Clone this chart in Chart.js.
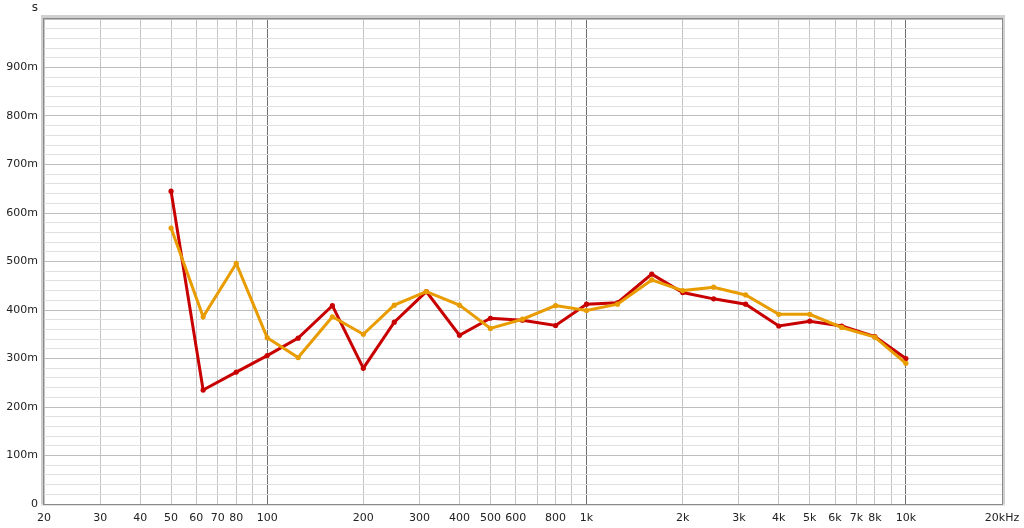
<!DOCTYPE html>
<html>
<head>
<meta charset="utf-8">
<script src="https://cdn.jsdelivr.net/npm/chart.js@4"></script>
<style>
    html, body { margin: 0; padding: 0; background: #ffffff; }
    #wrap { width: 1024px; height: 528px; }
</style>
</head>
<body>
<div id="wrap"><canvas id="rtChart" width="1024" height="528"></canvas></div>
<script>
// 1/3 octave centre frequencies (Hz)
const freqs = [50, 63, 80, 100, 125, 160, 200, 250, 315, 400, 500, 630, 800,
    1000, 1250, 1600, 2000, 2500, 3150, 4000, 5000, 6300, 8000, 10000];

// decay times (s)
const redValues = [0.645, 0.235, 0.272, 0.306, 0.342, 0.409, 0.280, 0.375, 0.438, 0.348, 0.383, 0.379, 0.368,
    0.412, 0.415, 0.474, 0.436, 0.423, 0.412, 0.367, 0.377, 0.367, 0.345, 0.300];
const orangeValues = [0.569, 0.386, 0.496, 0.343, 0.302, 0.386, 0.350, 0.410, 0.438, 0.410, 0.362, 0.381, 0.409,
    0.399, 0.412, 0.462, 0.440, 0.447, 0.431, 0.391, 0.391, 0.364, 0.344, 0.290];

// x grid lines and their labels
const xGridValues = [20, 30, 40, 50, 60, 70, 80, 90, 100, 200, 300, 400, 500, 600, 700, 800, 900,
    1000, 2000, 3000, 4000, 5000, 6000, 7000, 8000, 9000, 10000, 20000];
const xTickLabels = ['20', '30', '40', '50', '60', '70', '80', '', '100', '200', '300', '400', '500', '600', '', '800', '',
    '1k', '2k', '3k', '4k', '5k', '6k', '7k', '8k', '', '10k', '20kHz'];
const yTickLabels = ['0', '100m', '200m', '300m', '400m', '500m', '600m', '700m', '800m', '900m'];

const FONT = { family: "'DejaVu Sans', sans-serif", size: 11 };

function toPoints(values) {
    return freqs.map((f, i) => ({ x: f, y: values[i] }));
}

const frame = {
    id: 'frame',
    beforeDraw(chart) {
        const { ctx, chartArea: a } = chart;
        ctx.save();
        ctx.fillStyle = '#ffffff';
        ctx.fillRect(a.left, a.top, a.right - a.left, a.bottom - a.top);
        ctx.restore();
    },
    afterDatasetsDraw(chart) {
        const { ctx, chartArea: a } = chart;
        ctx.save();
        // raised frame: soft band on left, top and right
        ctx.fillStyle = '#d0d0d0';
        ctx.fillRect(a.left - 3, a.top - 4, 3, a.bottom - a.top + 4);
        ctx.fillRect(a.left - 3, a.top - 4, a.right - a.left + 6, 3);
        ctx.fillRect(a.right, a.top - 4, 3, a.bottom - a.top + 4);
        ctx.fillStyle = '#e4e4e4';
        ctx.fillRect(a.left - 3, a.bottom, a.right - a.left + 6, 2);
        ctx.strokeStyle = '#8a8a8a';
        ctx.lineWidth = 1;
        ctx.strokeRect(a.left - 0.5, a.top - 0.5, a.right - a.left + 1, a.bottom - a.top + 1);
        // unit label
        ctx.fillStyle = '#222222';
        ctx.font = "12px 'DejaVu Sans', sans-serif";
        ctx.textAlign = 'center';
        ctx.textBaseline = 'middle';
        ctx.fillText('s', 35, 8);
        ctx.restore();
    }
};

const ctx = document.getElementById('rtChart').getContext('2d');
const rtChart = new Chart(ctx, {
    type: 'scatter',
    data: {
        datasets: [
            {
                label: 'Orange',
                data: toPoints(orangeValues),
                showLine: true,
                borderColor: '#e89c00',
                backgroundColor: '#e89c00',
                borderWidth: 3,
                pointRadius: 2.6,
                pointBorderWidth: 0,
                pointHoverRadius: 2.6
            },
            {
                label: 'Red',
                data: toPoints(redValues),
                showLine: true,
                borderColor: '#c80000',
                backgroundColor: '#c80000',
                borderWidth: 3,
                pointRadius: 2.6,
                pointBorderWidth: 0,
                pointHoverRadius: 2.6
            }
        ]
    },
    options: {
        responsive: false,
        animation: false,
        layout: { padding: { top: 19, right: 22, left: 0, bottom: 0 } },
        plugins: {
            legend: { display: false },
            tooltip: { enabled: false }
        },
        scales: {
            x: {
                type: 'logarithmic',
                min: 20,
                max: 20000,
                afterBuildTicks: function(scale) {
                    scale.ticks = xGridValues.map(v => ({ value: v }));
                },
                afterFit: function(scale) {
                    scale.height = 24;
                    scale.paddingLeft = 0;
                    scale.paddingRight = 0;
                },
                border: { display: false },
                grid: {
                    color: function(c) {
                        const v = c.tick ? c.tick.value : 0;
                        return (v === 100 || v === 1000 || v === 10000) ? '#6e6e6e' : '#c4c4c4';
                    },
                    drawTicks: false
                },
                ticks: {
                    autoSkip: false,
                    maxRotation: 0,
                    padding: 8,
                    color: '#222222',
                    font: FONT,
                    callback: function(value, index) {
                        return xTickLabels[index];
                    }
                }
            },
            y: {
                min: 0,
                max: 1.0,
                z: -1,
                afterFit: function(scale) {
                    scale.width = 44;
                },
                border: { display: false },
                grid: {
                    color: function(c) {
                        const v = Math.round((c.tick ? c.tick.value : 0) * 1000);
                        return v % 100 === 0 ? '#bdbdbd' : '#e0e0e0';
                    },
                    drawTicks: false
                },
                ticks: {
                    stepSize: 0.02,
                    autoSkip: false,
                    padding: 6,
                    color: '#222222',
                    font: FONT,
                    callback: function(value, index) {
                        if (index % 5 !== 0) return '';
                        const label = yTickLabels[index / 5];
                        return label === undefined ? '' : label;
                    }
                }
            }
        }
    },
    plugins: [frame]
});
</script>
</body>
</html>
